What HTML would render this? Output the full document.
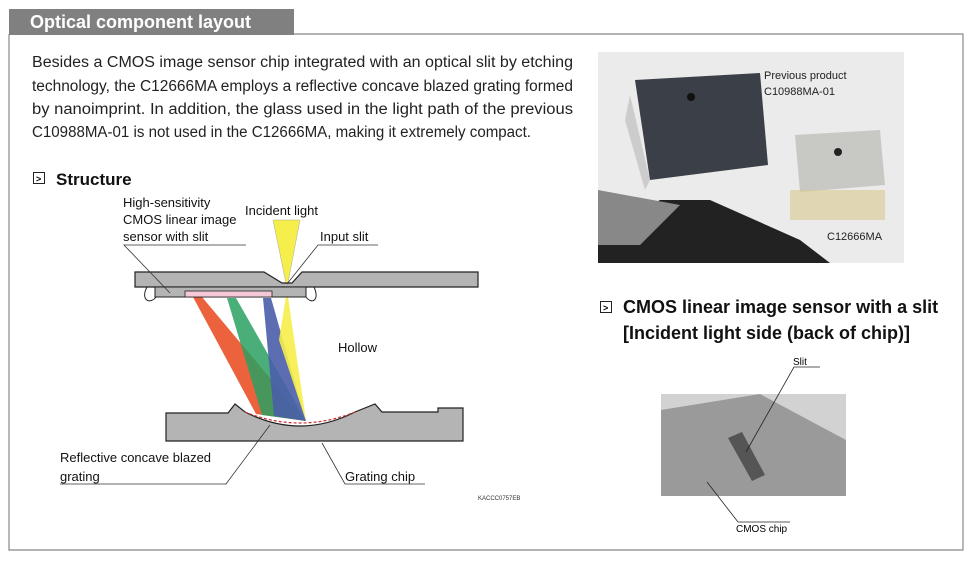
<!DOCTYPE html>
<html><head><meta charset="utf-8"><style>
body{margin:0;background:#fff;width:971px;height:560px;overflow:hidden;font-family:"Liberation Sans",sans-serif}
</style></head><body>
<svg width="971" height="560" xmlns="http://www.w3.org/2000/svg" font-family="Liberation Sans, sans-serif">
<rect x="9" y="9" width="285" height="26" fill="#808080"/>
<text x="30" y="28" font-size="18" font-weight="bold" fill="#fff">Optical component layout</text>
<polyline points="294,34 963,34 963,550 9,550 9,34" fill="none" stroke="#888" stroke-width="1.2"/>
<g font-size="15.5" fill="#222">
<text x="32" y="67" textLength="541" lengthAdjust="spacingAndGlyphs">Besides a CMOS image sensor chip integrated with an optical slit by etching</text>
<text x="32" y="91" textLength="541" lengthAdjust="spacingAndGlyphs">technology, the C12666MA employs a reflective concave blazed grating formed</text>
<text x="32" y="114" textLength="541" lengthAdjust="spacingAndGlyphs">by nanoimprint. In addition, the glass used in the light path of the previous</text>
<text x="32" y="137" textLength="499" lengthAdjust="spacingAndGlyphs">C10988MA-01 is not used in the C12666MA, making it extremely compact.</text>
</g>
<rect x="33.5" y="172.5" width="11" height="11" fill="none" stroke="#222"/>
<text x="36" y="182" font-size="9" font-weight="bold">&gt;</text>
<text x="56" y="185" font-size="17" font-weight="bold" fill="#111">Structure</text>

<polygon points="273,220 300,220 287,288" fill="#f6ee4a" stroke="#aa9" stroke-width="0.5"/>
<polygon points="193,297 202,297 306,421 256,414" fill="#ea5a32" opacity="0.95"/>
<polygon points="227,298 236,298 306,421 262,415" fill="#2aa060" opacity="0.85"/>
<polygon points="263,298 271,298 306,421 274,416" fill="#4a5ea8" opacity="0.9"/>
<polygon points="287,290 279,340 306,421" fill="#f6ee4a" opacity="0.9"/>
<polygon points="135,272 264,272 282,283 292,283 302,272 478,272 478,287 135,287" fill="#b4b4b4" stroke="#222" stroke-width="1.2"/>
<rect x="155" y="287" width="151" height="10" fill="#b4b4b4" stroke="#222" stroke-width="1"/>
<rect x="185" y="291" width="87" height="6" fill="#f4c8d8" stroke="#222" stroke-width="0.8"/>
<path d="M147,287 C140,300 150,305 156,297" fill="none" stroke="#222"/>
<path d="M306,297 C312,305 320,300 314,287" fill="none" stroke="#222"/>
<path d="M166,413 L228,413 L235,404 L245,412 Q300,440 355,412 L375,404 L382,412 L438,412 L438,408 L463,408 L463,441 L166,441 Z" fill="#b4b4b4" stroke="#222" stroke-width="1.2"/>
<path d="M245,412 Q300,434 355,412" fill="none" stroke="#c33" stroke-width="1.2" stroke-dasharray="3,2"/>
<g font-size="13" fill="#111">
<text x="123" y="207">High-sensitivity</text>
<text x="123" y="224">CMOS linear image</text>
<text x="123" y="241">sensor with slit</text>
<text x="245" y="215">Incident light</text>
<text x="320" y="241">Input slit</text>
<text x="338" y="352">Hollow</text>
<text x="60" y="462">Reflective concave blazed</text>
<text x="60" y="481">grating</text>
<text x="345" y="481">Grating chip</text>
</g>
<text x="478" y="500" font-size="6" fill="#333">KACCC0757EB</text>
<g stroke="#333" stroke-width="0.8" fill="none">
<polyline points="246,245 124,245 170,293"/>
<polyline points="378,245 318,245 287,284"/>
<polyline points="225,484 226,484 270,425"/>
<line x1="60" y1="484" x2="226" y2="484"/>
<polyline points="425,484 345,484 322,443"/>
</g>

<rect x="598" y="52" width="306" height="211" fill="#ebebeb"/>
<polygon points="635,80 760,73 768,165 650,180" fill="#3a3f48"/>
<polygon points="630,95 650,180 645,190 625,120" fill="#ccc"/>
<circle cx="691" cy="97" r="4" fill="#111"/>
<polygon points="795,135 880,130 885,185 800,192" fill="#c8c8c4"/>
<circle cx="838" cy="152" r="4" fill="#222"/>
<rect x="790" y="190" width="95" height="30" fill="#d8c890" opacity="0.6"/>
<polygon points="598,235 660,200 710,200 800,240 830,263 598,263" fill="#222"/>
<polygon points="598,190 680,205 640,245 598,245" fill="#888"/>
<g font-size="11" fill="#222">
<text x="764" y="79">Previous product</text>
<text x="764" y="95">C10988MA-01</text>
<text x="827" y="240">C12666MA</text>
</g>
<rect x="600.5" y="301.5" width="11" height="11" fill="none" stroke="#222"/>
<text x="603" y="311" font-size="9" font-weight="bold">&gt;</text>
<text x="623" y="313" font-size="18" font-weight="bold" fill="#111">CMOS linear image sensor with a slit</text>
<text x="623" y="339" font-size="18" font-weight="bold" fill="#111">[Incident light side (back of chip)]</text>
<rect x="661" y="394" width="185" height="102" fill="#d2d2d2"/>
<polygon points="661,410 760,394 846,440 846,496 661,496" fill="#9a9a9a"/>
<polygon points="728,438 742,432 765,475 752,481" fill="#555"/>
<polyline points="820,367 794,367 746,452" fill="none" stroke="#222" stroke-width="0.8"/>
<polyline points="707,482 738,522 790,522" fill="none" stroke="#222" stroke-width="0.8"/>
<text x="793" y="365" font-size="10">Slit</text>
<text x="736" y="532" font-size="10">CMOS chip</text>
</svg>
</body></html>
